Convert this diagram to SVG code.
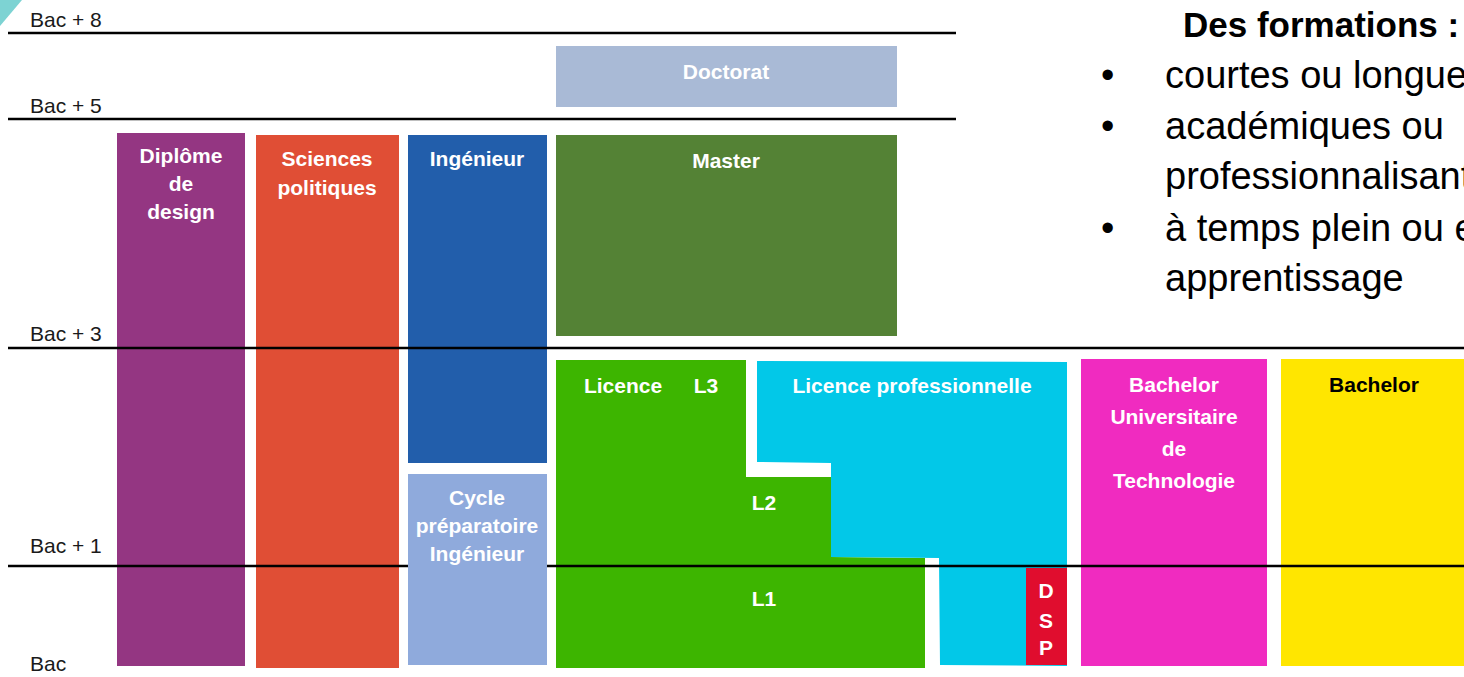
<svg xmlns="http://www.w3.org/2000/svg" width="1464" height="677" viewBox="0 0 1464 677">
<style>
.lbl{font-family:"Liberation Sans",Arial,sans-serif;font-weight:bold;font-size:21px;fill:#ffffff;text-anchor:middle}
.dark{fill:#000000}
.bac{font-family:"Liberation Sans",Arial,sans-serif;font-size:21px;fill:#1a1a1a}
.lvl{stroke:#000000;stroke-width:2.5}
.side{font-family:"Liberation Sans",Arial,sans-serif;font-size:38px;fill:#000000}
.title{font-family:"Liberation Sans",Arial,sans-serif;font-size:35px;font-weight:bold;fill:#000000}
</style>
<rect width="1464" height="677" fill="#ffffff"/>
<polygon points="0,0 22,0 0,26" fill="#7dd3d3"/>

<g id="bac-labels">
<text class="bac" x="30" y="27">Bac + 8</text>
<text class="bac" x="30" y="113">Bac + 5</text>
<text class="bac" x="30" y="341">Bac + 3</text>
<text class="bac" x="30" y="553">Bac + 1</text>
<text class="bac" x="30" y="671">Bac</text>
</g>

<g id="design"><rect x="117" y="133" width="128" height="533" fill="#943682"/>
<text class="lbl" x="181" y="163">Diplôme</text><text class="lbl" x="181" y="191">de</text><text class="lbl" x="181" y="219">design</text></g>

<g id="sciencespo"><rect x="256" y="135" width="143" height="533" fill="#E04E35"/>
<text class="lbl" x="327" y="166">Sciences</text><text class="lbl" x="327" y="195">politiques</text></g>

<g id="ingenieur"><rect x="408" y="135" width="139" height="328" fill="#225EAB"/>
<text class="lbl" x="477" y="166">Ingénieur</text></g>

<g id="doctorat"><rect x="556" y="46" width="341" height="61" fill="#A9BAD6"/>
<text class="lbl" x="726" y="79">Doctorat</text></g>

<g id="master"><rect x="556" y="135" width="341" height="201" fill="#548235"/>
<text class="lbl" x="726" y="168">Master</text></g>

<g id="licence"><polygon points="556,360 746,360 746,477 831,477 831,557 925,558 925,668 556,668" fill="#3DB500"/>
<text class="lbl" x="623" y="393">Licence</text><text class="lbl" x="706" y="393">L3</text>
<text class="lbl" x="764" y="510">L2</text><text class="lbl" x="764" y="606">L1</text></g>

<g id="licence-pro"><polygon points="757,361 1067,362 1067,666 940,665 939,558 831,557 831,463 757,462" fill="#02C8E8"/>
<text class="lbl" x="912" y="393">Licence professionnelle</text></g>

<g id="but"><rect x="1081" y="359" width="186" height="307" fill="#F02BC0"/>
<text class="lbl" x="1174" y="392">Bachelor</text><text class="lbl" x="1174" y="424">Universitaire</text><text class="lbl" x="1174" y="456">de</text><text class="lbl" x="1174" y="488">Technologie</text></g>

<g id="bachelor"><rect x="1281" y="359" width="183" height="307" fill="#FFE600"/>
<text class="lbl dark" x="1374" y="392">Bachelor</text></g>

<g id="connectors">
<line class="lvl" x1="8" y1="33" x2="956" y2="33"/>
<line class="lvl" x1="8" y1="119" x2="956" y2="119"/>
<line class="lvl" x1="8" y1="348" x2="1464" y2="348"/>
<line class="lvl" x1="8" y1="566" x2="1464" y2="566"/>
</g>

<g id="dsp"><rect x="1026" y="568" width="41" height="97" fill="#E00D2E"/>
<text class="lbl" x="1046" y="598">D</text><text class="lbl" x="1046" y="628">S</text><text class="lbl" x="1046" y="655">P</text></g>

<g id="cycle-prep"><rect x="408" y="474" width="139" height="191" fill="#8FAADC"/>
<text class="lbl" x="477" y="505">Cycle</text><text class="lbl" x="477" y="533">préparatoire</text><text class="lbl" x="477" y="561">Ingénieur</text></g>

<g id="formations">
<text class="title" x="1183" y="37">Des formations :</text>
<text class="side" x="1101" y="88">•</text><text class="side" x="1165" y="88">courtes ou longues</text>
<text class="side" x="1101" y="139">•</text><text class="side" x="1165" y="139">académiques ou</text>
<text class="side" x="1165" y="189">professionnalisantes</text>
<text class="side" x="1101" y="241">•</text><text class="side" x="1165" y="241">à temps plein ou en</text>
<text class="side" x="1165" y="291">apprentissage</text>
</g>
</svg>
